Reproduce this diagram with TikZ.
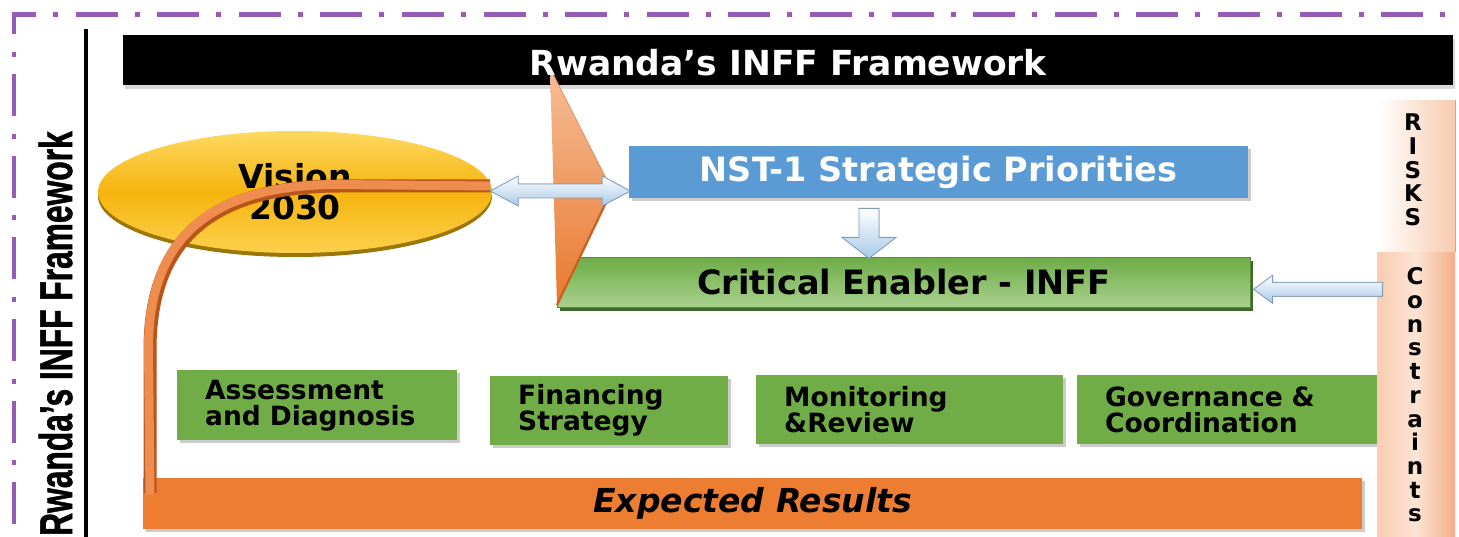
\documentclass[tikz,border=0pt]{standalone}
\usepackage{graphicx}
\usepackage{fontspec}
\setmainfont{DejaVu Sans}
\newfontfamily\narrowsans[BoldFeatures={FakeBold=1.4}]{Liberation Sans}
\usetikzlibrary{calc,shadows,shapes.geometric}

\definecolor{framepurple}{HTML}{955BB5}
\definecolor{nstblue}{HTML}{5B9BD5}
\definecolor{boxgreen}{HTML}{70AD47}
\definecolor{critTop}{HTML}{6EAD47}
\definecolor{critBot}{HTML}{A9D18E}
\definecolor{critDark}{HTML}{3B6B2A}
\definecolor{resorange}{HTML}{ED7D31}
\definecolor{triPeach}{HTML}{F6BE98}
\definecolor{triOrange}{HTML}{E8782F}
\definecolor{triEdge}{HTML}{C9601F}
\definecolor{visTop}{HTML}{FDD962}
\definecolor{visMid}{HTML}{F6B40E}
\definecolor{visBot}{HTML}{FCD04C}
\definecolor{visRim}{HTML}{9C7608}
\definecolor{arcDark}{HTML}{B8561A}
\definecolor{arcLight}{HTML}{EE8D4F}
\definecolor{arrowBlue}{HTML}{A9C9E8}
\definecolor{arrowLine}{HTML}{7F9DBB}
\definecolor{riskPeach}{HTML}{F7CBAE}
\definecolor{riskEdge}{HTML}{D9A285}
\definecolor{conLeft}{HTML}{F9CDB0}
\definecolor{conMid}{HTML}{FCE4D5}
\definecolor{conRight}{HTML}{F2AE86}

\tikzset{
  softshadow/.style={drop shadow={shadow xshift=3pt, shadow yshift=-3pt, fill=black!45, opacity=.45}},
  boldfont/.style={font=\bfseries\fontsize{#1}{#1}\selectfont},
  greenbox/.style={fill=boxgreen, softshadow, anchor=north west, inner xsep=28pt, inner ysep=0pt,
    align=left, text width=#1, minimum height=70pt,
    font=\bfseries\fontsize{26.5pt}{26pt}\selectfont},
  blockarrow/.style={top color=white, bottom color=arrowBlue, draw=arrowLine, line width=.8pt, line join=miter},
  lettercol/.style={align=center, inner sep=0pt, font=\bfseries\fontsize{23pt}{23.7pt}\selectfont}
}

\begin{document}
\begin{tikzpicture}[x=1pt,y=-1pt]
\useasboundingbox (0,0) rectangle (1459,537);
\fill[white] (0,0) rectangle (1459,537);

% dash-dotted purple frame (top and left edges)
\draw[framepurple, line width=4.6pt, line join=miter,
      dash pattern=on 42pt off 17pt on 5pt off 17.6pt, dash phase=45.7pt]
  (14,560) -- (14,14.5) -- (1450,14.5);

% vertical rule and side label
\draw[line width=4pt] (86,29) -- (86,545);
\node[rotate=90, anchor=base west, inner sep=0pt,
      font=\narrowsans\bfseries\fontsize{46pt}{46pt}\selectfont] (sidelabel) at (72,536)
  {\scalebox{0.69}[1]{Rwanda’s INFF Framework}};

% title bar
\node[fill=black, anchor=north west, minimum width=1330pt, minimum height=50pt, inner sep=0pt,
      drop shadow={shadow xshift=2pt, shadow yshift=-4pt, fill=black!25, opacity=.6}]
  (titlebar) at (123,35) {};

% critical enabler bar
\node[anchor=north west, minimum width=693pt, minimum height=50pt, inner sep=0pt,
      top color=critTop, bottom color=critBot, draw=critTop!80!black, line width=.6pt,
      drop shadow={shadow xshift=2.5pt, shadow yshift=-3.5pt, fill=critDark, opacity=1},
      boldfont=33.5pt] (critical) at (557,257) {Critical Enabler - INFF};

% orange wedge
\shade[top color=triPeach, bottom color=triOrange]
  (550,68) coordinate (apex) -- (612,190) coordinate (tip) -- (557,305) coordinate (base) -- cycle;
\draw[triEdge, line width=2.2pt] (tip) -- (base);
\draw[triEdge!70, line width=.8pt] (apex) -- (tip);

% title text
\node[text=white, boldfont=34.5pt] (title) at ([yshift=-2pt]titlebar.center) {Rwanda’s INFF Framework};

% NST-1 box
\node[fill=nstblue, anchor=north west, minimum width=619pt, minimum height=52pt, inner sep=0pt,
      text=white, softshadow, boldfont=33.5pt] (nst) at (629,146) {NST-1 Strategic Priorities};

% Vision ellipse
\node[ellipse, minimum width=394pt, minimum height=122pt, inner sep=0pt,
      top color=visTop, bottom color=visBot, middle color=visMid,
      drop shadow={shadow xshift=0pt, shadow yshift=-4pt, fill=visRim, opacity=1},
      align=center, font=\bfseries\fontsize{33pt}{31pt}\selectfont] (vision) at (295,192)
  {Vision\\2030};

% pillar boxes
\node[greenbox=224pt, minimum height=70pt] (assess) at (177,370) {Assessment\\and Diagnosis};
\node[greenbox=182pt, minimum height=69pt] (finance) at (490,376) {Financing\\Strategy};
\node[greenbox=251pt, minimum height=69pt] (monitor) at (756,375) {Monitoring\\\&Review};
\node[greenbox=245pt, minimum height=69pt] (govern) at (1077,375) {Governance \&\\Coordination};

% expected results bar
\node[fill=resorange, anchor=north west, minimum width=1219pt, minimum height=51pt, inner sep=0pt,
      softshadow, font=\bfseries\itshape\fontsize{33pt}{33pt}\selectfont] (results) at (143,478)
  {Expected Results};

% curved band from the vision down into the results bar
\coordinate (arcstart) at ($(vision.east)+(-2,-6)$);
\coordinate (arcend) at ($(results.north west)+(7,15)$);
\draw[arcDark, line width=13pt]
  (arcstart) -- (340,186) .. controls (200,186) and (150,250) .. (150,350) -- (arcend);
\draw[arcLight, line width=9pt, shift={(-1.5,-1.5)}]
  (arcstart) -- (340,186) .. controls (200,186) and (150,250) .. (150,350) -- ([yshift=-1.5pt]arcend);

% risks / constraints column
\node[anchor=north west, minimum width=78pt, minimum height=152pt, inner sep=0pt,
      left color=white, right color=riskPeach] (riskbar) at (1377,100) {};
\draw[riskEdge, line width=1.4pt] (riskbar.north east) -- (riskbar.south east);
\node[anchor=north west, minimum width=78pt, minimum height=290pt, inner sep=0pt,
      left color=conLeft, right color=conRight, middle color=conMid] (conbar) at (1377,252) {};
\node[lettercol] (risks) at (1413,170) {R\\I\\S\\K\\S};
\node[lettercol] (constraints) at (1415,395) {C\\o\\n\\s\\t\\r\\a\\i\\n\\t\\s};

% double block arrow: vision <-> NST-1
\filldraw[blockarrow, shift={($(vision.east)+(-2,-1)$)}]
  (0,0) -- (28,-15) -- (28,-7) -- (112,-7) -- (112,-15) -- (140,0)
  -- (112,15) -- (112,7) -- (28,7) -- (28,15) -- cycle;

% block arrow: NST-1 down to the critical enabler
\filldraw[blockarrow, shift={($(nst.south west)+(240,10)$)}]
  (-10,0) -- (10,0) -- (10,29) -- (27,29) -- (0,50) -- (-27,29) -- (-10,29) -- cycle;

% block arrow: constraints into the critical enabler
\filldraw[blockarrow, shift={($(critical.east)+(3,7)$)}]
  (0,0) -- (19,-14) -- (19,-7) -- (129,-7) -- (129,7) -- (19,7) -- (19,14) -- cycle;
\end{tikzpicture}
\end{document}
